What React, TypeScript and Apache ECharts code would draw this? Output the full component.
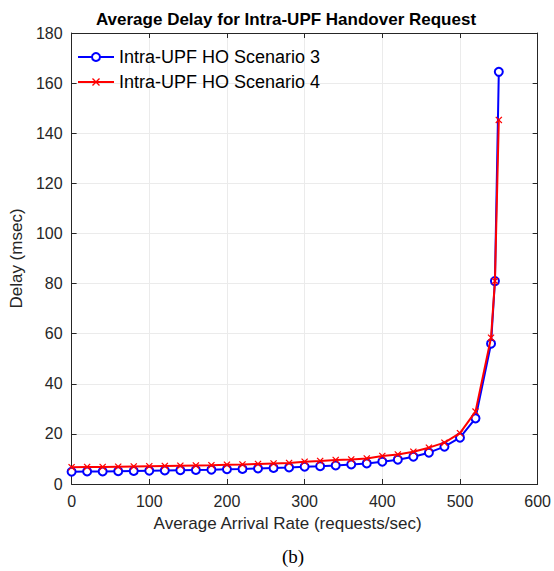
import React, { useEffect, useRef } from "react";
import * as echarts from "echarts";

const xValues = [0, 20, 40, 60, 80, 100, 120, 140, 160, 180, 200, 220, 240, 260, 280, 300, 320, 340, 360, 380, 400, 420, 440, 460, 480, 500, 520, 540, 545, 550];
const scenario3 = [4.9, 5.0, 5.0, 5.1, 5.2, 5.3, 5.4, 5.5, 5.6, 5.7, 5.9, 6.0, 6.2, 6.4, 6.6, 6.9, 7.1, 7.4, 7.8, 8.2, 8.9, 9.7, 10.9, 12.5, 14.9, 18.5, 26.2, 56.0, 81.0, 164.5];
const scenario4 = [6.7, 6.8, 6.8, 6.9, 7.0, 7.1, 7.2, 7.3, 7.4, 7.5, 7.7, 7.8, 8.0, 8.2, 8.4, 8.9, 9.2, 9.6, 9.8, 10.2, 11.2, 11.8, 12.9, 14.5, 16.5, 20.3, 28.9, 58.4, 81.0, 145.3];
const seriesNames = ["Intra-UPF HO Scenario 3", "Intra-UPF HO Scenario 4"];
const titleText = "Average Delay for Intra-UPF Handover Request";
const xName = "Average Arrival Rate (requests/sec)";
const yName = "Delay (msec)";
const caption = "(b)";

const FONT = "'Liberation Sans', Arial, sans-serif";
const xMark = "path://M0,1.2L1.2,0L5,3.8L8.8,0L10,1.2L6.2,5L10,8.8L8.8,10L5,6.2L1.2,10L0,8.8L3.8,5Z";

export default function App() {
  const ref = useRef<HTMLDivElement>(null);
  useEffect(() => {
    if (!ref.current) return;
    const chart = echarts.init(ref.current, null, { renderer: "svg" });
    const axisLabel = { color: "#262626", fontSize: 16, fontFamily: FONT };
    chart.setOption({
      animation: false,
      backgroundColor: "#ffffff",
      title: {
        text: titleText,
        left: 286,
        textAlign: "center",
        top: 11,
        padding: 0,
        textStyle: { fontFamily: FONT, fontSize: 17, fontWeight: "bold", color: "#000" },
      },
      legend: {
        orient: "vertical",
        left: 77,
        top: 48,
        padding: 0,
        itemWidth: 36,
        itemHeight: 10,
        itemGap: 7,
        textStyle: { fontFamily: FONT, fontSize: 18, color: "#000" },
        data: seriesNames,
      },
      grid: { left: 64, right: 13, top: 33, bottom: 87, containLabel: false },
      xAxis: [
        {
          type: "value",
          min: 0,
          max: 600,
          interval: 100,
          name: xName,
          nameLocation: "middle",
          nameGap: 31,
          nameTextStyle: { color: "#262626", fontSize: 17, fontFamily: FONT, padding: [0, 34, 0, 0] },
          axisLine: { lineStyle: { color: "#262626", width: 1 } },
          axisTick: { inside: true, length: 5, lineStyle: { color: "#262626" } },
          axisLabel: { ...axisLabel, margin: 9 },
          splitLine: { show: true, lineStyle: { color: "#ebebeb", width: 1 } },
        },
        {
          type: "value",
          position: "top",
          min: 0,
          max: 600,
          interval: 100,
          axisLine: { show: true, onZero: false, lineStyle: { color: "#262626", width: 1 } },
          axisTick: { inside: true, length: 5, lineStyle: { color: "#262626" } },
          axisLabel: { show: false },
          splitLine: { show: false },
        },
      ],
      yAxis: [
        {
          type: "value",
          min: 0,
          max: 180,
          interval: 20,
          name: yName,
          nameLocation: "middle",
          nameGap: 37,
          nameTextStyle: { color: "#262626", fontSize: 17, fontFamily: FONT },
          axisLine: { show: true, lineStyle: { color: "#262626", width: 1 } },
          axisTick: { show: true, inside: true, length: 5, lineStyle: { color: "#262626" } },
          axisLabel: { ...axisLabel, margin: 9 },
          splitLine: { show: true, lineStyle: { color: "#ebebeb", width: 1 } },
        },
        {
          type: "value",
          position: "right",
          min: 0,
          max: 180,
          interval: 20,
          axisLine: { show: true, onZero: false, lineStyle: { color: "#262626", width: 1 } },
          axisTick: { show: true, inside: true, length: 5, lineStyle: { color: "#262626" } },
          axisLabel: { show: false },
          splitLine: { show: false },
        },
      ],
      series: [
        {
          name: seriesNames[0],
          type: "line",
          data: xValues.map((x, i) => [x, scenario3[i]]),
          symbol: "emptyCircle",
          symbolSize: 8,
          lineStyle: { color: "#0000ff", width: 2 },
          itemStyle: { color: "#0000ff", borderColor: "#0000ff", borderWidth: 1.6 },
          z: 2,
        },
        {
          name: seriesNames[1],
          type: "line",
          data: xValues.map((x, i) => [x, scenario4[i]]),
          symbol: xMark,
          symbolSize: 7,
          lineStyle: { color: "#ff0000", width: 2 },
          itemStyle: { color: "#ff0000" },
          z: 3,
        },
      ],
      graphic: [
        {
          type: "text",
          left: 282,
          top: 547,
          style: {
            text: caption,
            font: "19px 'Liberation Serif', 'Times New Roman', serif",
            fill: "#000",
          },
        },
      ],
    });
    return () => chart.dispose();
  }, []);
  return <div ref={ref} style={{ width: 554, height: 571, position: "absolute", left: 0, top: 0 }} />;
}
